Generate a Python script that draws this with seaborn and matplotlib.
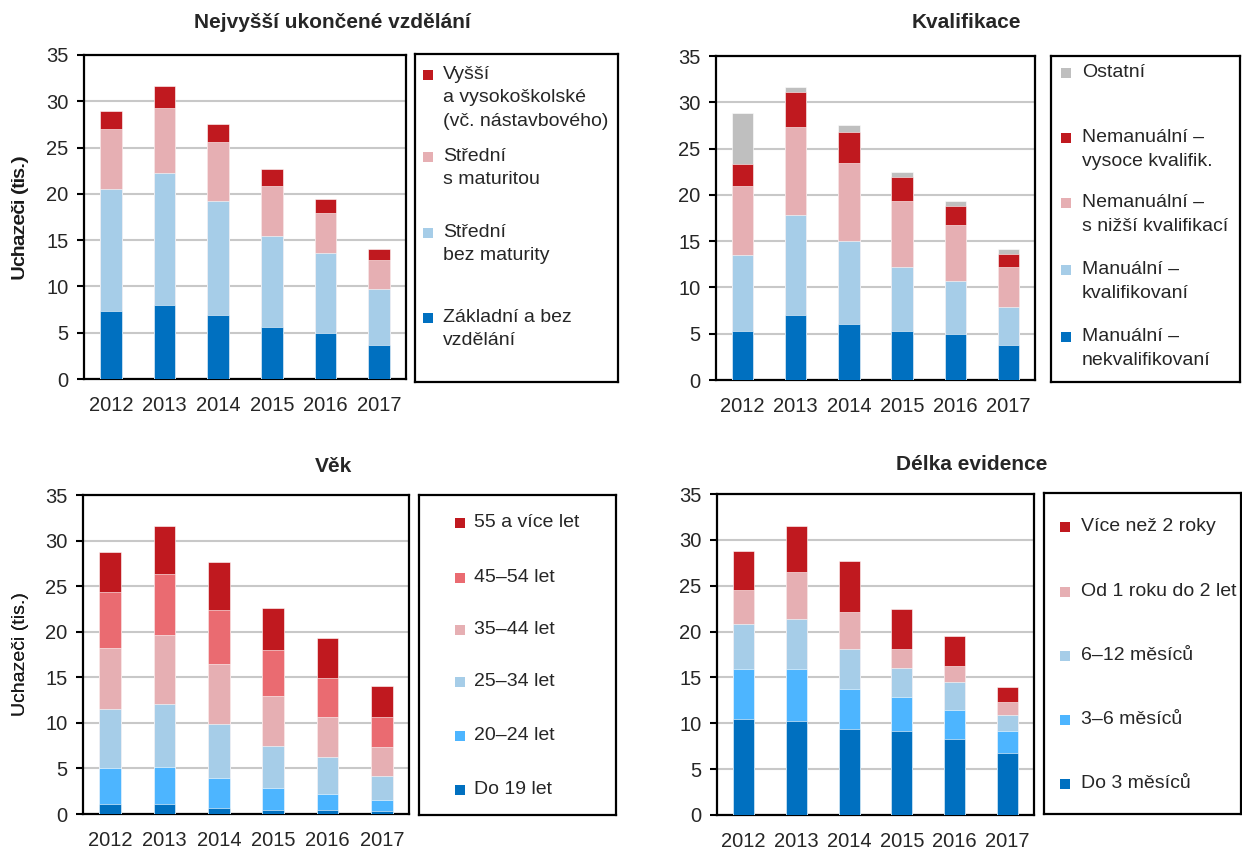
import numpy as np
import pandas as pd
import matplotlib
matplotlib.use("Agg")
import matplotlib.pyplot as plt
import seaborn as sns
from matplotlib.patches import Rectangle

# --- data (tis. uchazečů) ---
years = ['2012', '2013', '2014', '2015', '2016', '2017']

# Nejvyšší ukončené vzdělání (bottom -> top)
zakladni = [7.3, 8.0, 6.9, 5.6, 5.0, 3.7]
stredni_bez = [13.2, 14.2, 12.3, 9.9, 8.6, 6.0]
stredni_mat = [6.5, 7.1, 6.4, 5.4, 4.3, 3.2]
vyssi = [1.9, 2.4, 2.0, 1.8, 1.5, 1.1]

# Kvalifikace
man_nekval = [5.3, 7.0, 6.1, 5.3, 5.0, 3.8]
man_kval = [8.2, 10.8, 8.9, 6.9, 5.7, 4.1]
neman_nizsi = [7.5, 9.5, 8.4, 7.1, 6.0, 4.3]
neman_vys = [2.3, 3.8, 3.4, 2.6, 2.1, 1.4]
ostatni = [5.5, 0.5, 0.7, 0.6, 0.5, 0.5]

# Věk
vek_do19 = [1.1, 1.1, 0.7, 0.4, 0.4, 0.3]
vek_20_24 = [3.9, 4.1, 3.3, 2.4, 1.8, 1.2]
vek_25_34 = [6.5, 6.9, 5.9, 4.7, 4.0, 2.7]
vek_35_44 = [6.7, 7.5, 6.6, 5.5, 4.4, 3.1]
vek_45_54 = [6.2, 6.7, 5.9, 5.0, 4.3, 3.3]
vek_55 = [4.4, 5.3, 5.2, 4.6, 4.4, 3.4]

# Délka evidence
ev_do3 = [10.5, 10.3, 9.4, 9.2, 8.3, 6.8]
ev_3_6 = [5.4, 5.6, 4.3, 3.7, 3.2, 2.4]
ev_6_12 = [4.9, 5.5, 4.4, 3.1, 3.0, 1.7]
ev_1_2 = [3.7, 5.1, 4.0, 2.1, 1.7, 1.4]
ev_2 = [4.3, 5.0, 5.6, 4.4, 3.3, 1.7]

DBLUE = '#0070C0'
MBLUE = '#4DB5FF'
LBLUE = '#A6CDE8'
PINK = '#E6AFB3'
SALMON = '#EA6B71'
RED = '#C0191F'
GREY = '#BFBFBF'

sns.set_style("white")
plt.rcParams['font.family'] = ['Liberation Sans', 'DejaVu Sans']

W, H = 1242, 849
fig = plt.figure(figsize=(W / 100, H / 100), dpi=100)


def rect(x0, y0, x1, y1):
    return [x0 / W, 1 - y1 / H, (x1 - x0) / W, (y1 - y0) / H]


def draw_panel(box, series, colors, title, title_xy):
    ax = fig.add_axes(rect(*box))
    cum = np.cumsum(np.array(series), axis=0)
    # stack: draw the tallest cumulative first, smaller ones on top
    for i in range(len(series) - 1, -1, -1):
        sns.barplot(x=years, y=cum[i], color=colors[i], width=0.4, saturation=1,
                    edgecolor='white', linewidth=0.4, errorbar=None, ax=ax, zorder=3)
    ax.set_ylim(0, 35)
    ax.set_xlim(-0.5, 5.5)
    ax.set_yticks(range(0, 36, 5))
    ax.yaxis.grid(True, color='#C8C8C8', linewidth=1.5, zorder=0)
    ax.set_axisbelow(True)
    ax.set_xticks(range(6))
    ax.set_xticklabels(years)
    ax.set_xticks(np.arange(-0.5, 6, 1), minor=True)
    ax.tick_params(axis='x', which='major', length=0, labelsize=14.5, pad=12)
    ax.tick_params(axis='x', which='minor', length=6, width=1.5, direction='out', color='black')
    ax.tick_params(axis='y', length=5, width=1.5, direction='out', color='black',
                   labelsize=14.5, left=True, pad=6)
    for s in ax.spines.values():
        s.set_color('black')
        s.set_linewidth(1.6)
    ax.set_xlabel('')
    ax.set_ylabel('Uchazeči (tis.)', fontsize=14, fontweight='normal', color='#1a1a1a')
    x0, y0, x1, y1 = box
    ax.yaxis.set_label_coords(-(x0 - 29) / (x1 - x0), 0.5)
    fig.text(title_xy[0] / W, 1 - title_xy[1] / H, title, ha='center', va='center',
             fontsize=15, fontweight='bold')
    return ax


def draw_legend(box, labels, colors, ys, mx, tx):
    lax = fig.add_axes(rect(*box))
    lax.set_xticks([])
    lax.set_yticks([])
    for s in lax.spines.values():
        s.set_color('black')
        s.set_linewidth(1.6)
    for lab, c, y in zip(labels, colors, ys):
        fig.patches.append(Rectangle(((mx) / W, 1 - (y + 5) / H), 10 / W, 10 / H,
                                     transform=fig.transFigure, facecolor=c, edgecolor='none'))
        fig.text(tx / W, 1 - (y - 9) / H, lab, ha='left', va='top', fontsize=14,
                 linespacing=1.5)


draw_panel((84, 55, 406, 379), [zakladni, stredni_bez, stredni_mat, vyssi],
           [DBLUE, LBLUE, PINK, RED], 'Nejvyšší ukončené vzdělání', (332, 23))
draw_legend((415, 54, 618, 382),
            ['Vyšší\na vysokoškolské\n(vč. nástavbového)', 'Střední\ns maturitou',
             'Střední\nbez maturity', 'Základní a bez\nvzdělání'],
            [RED, PINK, LBLUE, DBLUE], [75, 157, 233, 318], 423, 443)

draw_panel((716, 56, 1035, 380), [man_nekval, man_kval, neman_nizsi, neman_vys, ostatni],
           [DBLUE, LBLUE, PINK, RED, GREY], 'Kvalifikace', (966, 23))
draw_legend((1051, 56, 1240, 382),
            ['Ostatní', 'Nemanuální –\nvysoce kvalifik.', 'Nemanuální –\ns nižší kvalifikací',
             'Manuální –\nkvalifikovaní', 'Manuální –\nnekvalifikovaní'],
            [GREY, RED, PINK, LBLUE, DBLUE], [73, 138, 203, 270, 337], 1061, 1082)

draw_panel((83, 495, 409, 814), [vek_do19, vek_20_24, vek_25_34, vek_35_44, vek_45_54, vek_55],
           [DBLUE, MBLUE, LBLUE, PINK, SALMON, RED], 'Věk', (333, 466))
draw_legend((419, 495, 616, 815),
            ['55 a více let', '45–54 let', '35–44 let', '25–34 let', '20–24 let', 'Do 19 let'],
            [RED, SALMON, PINK, LBLUE, MBLUE, DBLUE], [523, 578, 630, 682, 736, 790], 455, 474)

draw_panel((717, 494, 1034, 815), [ev_do3, ev_3_6, ev_6_12, ev_1_2, ev_2],
           [DBLUE, MBLUE, LBLUE, PINK, RED], 'Délka evidence', (972, 465))
draw_legend((1044, 493, 1241, 814),
            ['Více než 2 roky', 'Od 1 roku do 2 let', '6–12 měsíců', '3–6 měsíců', 'Do 3 měsíců'],
            [RED, PINK, LBLUE, MBLUE, DBLUE], [527, 592, 656, 720, 784], 1060, 1081)

fig.savefig('out.png', dpi=100)
